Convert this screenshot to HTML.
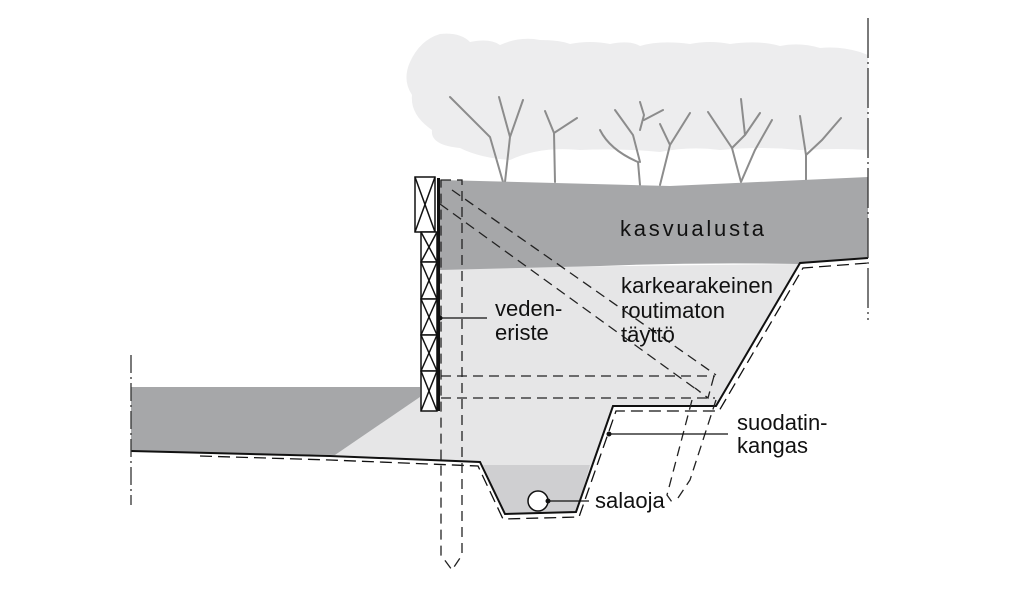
<!DOCTYPE html>
<html><head><meta charset="utf-8"><style>
html,body{margin:0;padding:0;background:#fff;}
svg{display:block;}
text{font-family:"Liberation Sans",sans-serif;fill:#111;}
</style></head><body>
<svg width="1024" height="595" viewBox="0 0 1024 595" xmlns="http://www.w3.org/2000/svg">
<!-- cloud -->
<path d="M410,62 Q420,40 440,34 Q460,32 470,42 Q490,38 500,45 Q520,36 540,40 Q560,40 570,44 Q590,40 610,44 Q630,40 640,46 Q660,40 690,44 Q710,40 730,44 Q760,40 780,46 Q800,42 820,48 Q840,46 860,52 L868,55 L868,150 Q840,148 800,150 Q760,146 720,150 Q690,146 660,152 Q620,148 580,150 Q540,146 510,160 Q480,158 460,148 Q430,145 432,130 Q410,115 412,95 Q402,80 410,62 Z" fill="#ededee"/>
<!-- trees -->
<g stroke="#8c8c8c" stroke-width="2" fill="none" stroke-linecap="round">
<path d="M450,97 L490,137 L503,182 M499,97 L510,137 L505,182 M523,100 L510,137"/>
<path d="M545,111 L554,133 L555,182 M554,133 L577,118"/>
<path d="M600,130 Q610,150 638,162 L640,185 M615,110 L633,135 L640,162 M640,102 L644,115 L640,130 M644,120 L663,110"/>
<path d="M660,124 L670,145 L660,185 M690,113 L670,145"/>
<path d="M708,112 L732,148 L741,182 M741,99 L745,135 L732,148 M760,113 L745,135 M772,120 L755,150 L741,182"/>
<path d="M800,116 L806,155 L806,180 M841,118 L822,140 L806,155"/>
</g>
<!-- light fill -->
<polygon points="440,268 800,264 716,407 613,407 576,513 504,514 482,463 335,455 420,397 440,397" fill="#e6e6e7"/>
<!-- drain mid grey -->
<polygon points="483,465 590,465 576,513 504,514" fill="#cfcfd1"/>
<!-- kasvualusta -->
<path d="M440,180 L670,186 L868,177 L868,258 L800,264 Q700,262 600,266 L440,270 Z" fill="#a6a7a9"/>
<!-- left dark band -->
<polygon points="131,387 420,387 420,397 335,455 131,451" fill="#a6a7a9"/>
<!-- main solid line -->
<polyline points="131,451 330,456 480,462 505,514 576,512 613,406 716,406 800,263 868,258" fill="none" stroke="#111" stroke-width="2"/>
<polyline points="200,456 330,460 478,466 503,519 579,517 616,411 719,411 803,268 868,263" fill="none" stroke="#111" stroke-width="1.3" stroke-dasharray="12,6"/>
<!-- dash-dot lines -->
<line x1="131" y1="355" x2="131" y2="505" stroke="#333" stroke-width="1.3" stroke-dasharray="18,4,2,4"/>
<line x1="868" y1="18" x2="868" y2="320" stroke="#333" stroke-width="1.3" stroke-dasharray="40,4,2,4"/>
<!-- wall blocks -->
<g stroke="#111" stroke-width="1.5" fill="#fff">
<rect x="415" y="177" width="20" height="55"/>
<line x1="415" y1="177" x2="435" y2="232"/><line x1="435" y1="177" x2="415" y2="232"/>
<rect x="421" y="232" width="16" height="30"/><line x1="421" y1="232" x2="437" y2="262"/><line x1="437" y1="232" x2="421" y2="262"/>
<rect x="421" y="262" width="16" height="37"/><line x1="421" y1="262" x2="437" y2="299"/><line x1="437" y1="262" x2="421" y2="299"/>
<rect x="421" y="299" width="16" height="36"/><line x1="421" y1="299" x2="437" y2="335"/><line x1="437" y1="299" x2="421" y2="335"/>
<rect x="421" y="335" width="16" height="36"/><line x1="421" y1="335" x2="437" y2="371"/><line x1="437" y1="335" x2="421" y2="371"/>
<rect x="421" y="371" width="16" height="40"/><line x1="421" y1="371" x2="437" y2="411"/><line x1="437" y1="371" x2="421" y2="411"/>
</g>
<line x1="438.5" y1="178" x2="438.5" y2="411" stroke="#111" stroke-width="3"/>
<!-- dashed structures -->
<g stroke="#222" stroke-width="1.3" fill="none" stroke-dasharray="10,6">
<path d="M441,180 L462,180 L462,555 L452,570 L441,555 Z"/>
<line x1="441" y1="376" x2="715" y2="376"/>
<line x1="441" y1="398" x2="715" y2="398"/>
<line x1="452" y1="190" x2="716" y2="375"/>
<line x1="440" y1="204" x2="700" y2="392"/>
<path d="M714,376 L708,398 L695,388"/>
<path d="M692,400 L667,495 L672,502"/>
<path d="M716,400 L690,480 L678,498"/>
</g>
<!-- pipe -->
<circle cx="538" cy="501" r="10" fill="#fff" stroke="#111" stroke-width="1.5"/>
<!-- leaders -->
<g stroke="#111" stroke-width="1.2">
<line x1="440" y1="318" x2="487" y2="318"/>
<line x1="609" y1="434" x2="728" y2="434"/>
<line x1="548" y1="501" x2="589" y2="501"/>
</g>
<circle cx="440" cy="318" r="2.5" fill="#111"/>
<circle cx="609" cy="434" r="2.5" fill="#111"/>
<circle cx="548" cy="501" r="2.5" fill="#111"/>
<!-- labels -->
<g font-size="22">
<text x="620" y="236" textLength="144" lengthAdjust="spacing">kasvualusta</text>
<text x="621" y="293" textLength="152" lengthAdjust="spacing">karkearakeinen</text>
<text x="621" y="318">routimaton</text>
<text x="621" y="342">täyttö</text>
<text x="495" y="316">veden-</text>
<text x="495" y="340">eriste</text>
<text x="737" y="430">suodatin-</text>
<text x="737" y="453">kangas</text>
<text x="595" y="508">salaoja</text>
</g>
</svg>
</body></html>
